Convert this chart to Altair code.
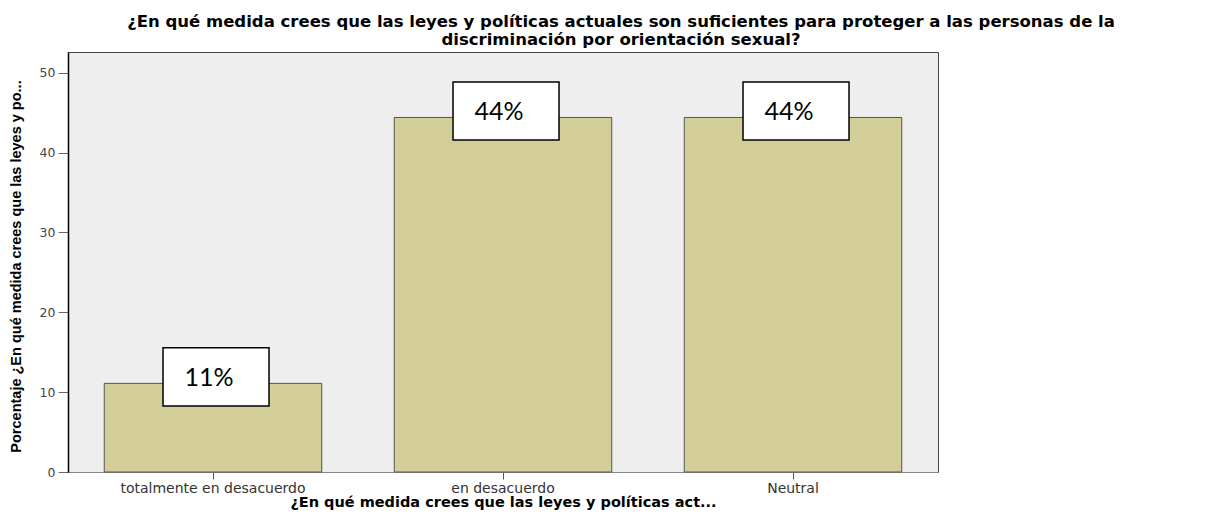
import altair as alt
import pandas as pd

categories = ["totalmente en desacuerdo", "en desacuerdo", "Neutral"]
values = [11.1, 44.4, 44.4]
labels = ["11%", "44%", "44%"]

title_lines = [
    "¿En qué medida crees que las leyes y políticas actuales son suficientes para proteger a las personas de la",
    "discriminación por orientación sexual?",
]
x_title = "¿En qué medida crees que las leyes y políticas act..."
y_title = "Porcentaje ¿En qué medida crees que las leyes y po..."

df = pd.DataFrame({"cat": categories, "val": values, "lab": labels})

x_enc = alt.X(
    "cat:N",
    sort=categories,
    title=x_title,
    scale=alt.Scale(paddingInner=0.25, paddingOuter=0.125),
    axis=alt.Axis(
        labelAngle=0,
        labelFont="DejaVu Sans",
        labelFontSize=14,
        labelColor="#333333",
        labelPadding=2,
        labelLimit=400,
        tickSize=7,
        tickColor="#555555",
        domainColor="#888888",
        titleFont="DejaVu Sans",
        titleFontSize=14.5,
        titleFontWeight="bold",
        titleColor="#000000",
        titlePadding=0,
    ),
)
y_enc = alt.Y(
    "val:Q",
    title=y_title,
    scale=alt.Scale(domain=[0, 52.6], nice=False),
    axis=alt.Axis(
        values=[0, 10, 20, 30, 40, 50],
        grid=False,
        tickSize=10,
        tickColor="#666666",
        labelFont="DejaVu Sans",
        labelFontSize=12.5,
        labelColor="#444444",
        labelPadding=3,
        domainColor="#000000",
        domainWidth=1.5,
        titleFont="Liberation Sans",
        titleFontSize=14.5,
        titleFontWeight="bold",
        titleColor="#000000",
        titleAngle=270,
        titleAlign="center",
        titleBaseline="middle",
        titleX=-52,
        titleY=214,
        titleLimit=500,
    ),
)

bars = alt.Chart(df).mark_bar(
    color="#D3CE97", stroke="#555555", strokeWidth=1
).encode(x=x_enc, y=y_enc)

box_path = "M-0.943,-0.670 L1.057,-0.670 L1.057,0.425 L-0.943,0.425 Z"
boxes = alt.Chart(df).mark_point(
    shape=box_path, size=11236, filled=True, fill="white",
    stroke="black", strokeWidth=1.5, opacity=1
).encode(x=alt.X("cat:N", sort=categories), y="val:Q")

texts = alt.Chart(df).mark_text(
    font="Lato", fontSize=25, color="black", dx=-4, dy=3, baseline="alphabetic"
).encode(x=alt.X("cat:N", sort=categories), y="val:Q", text="lab:N")

chart = (
    alt.layer(bars, boxes, texts)
    .properties(
        width=870,
        height=420,
        view=alt.ViewBackground(fill="#EEEEEE", stroke="#444444", strokeWidth=1),
        title=alt.TitleParams(
            text=title_lines,
            font="DejaVu Sans",
            fontSize=16.5,
            fontWeight="bold",
            color="#000000",
            anchor="middle",
            frame="group",
            dx=118,
            offset=4,
            lineHeight=18,
        ),
        autosize=alt.AutoSizeParams(type="none"),
        padding={"left": 60, "top": 44, "right": 276, "bottom": 38},
    )
    .configure_view(fill="#EEEEEE", stroke="#444444", strokeWidth=1)
    .configure(background="white")
)

chart.save("out.html", embed_options={"renderer": "svg", "actions": False})
